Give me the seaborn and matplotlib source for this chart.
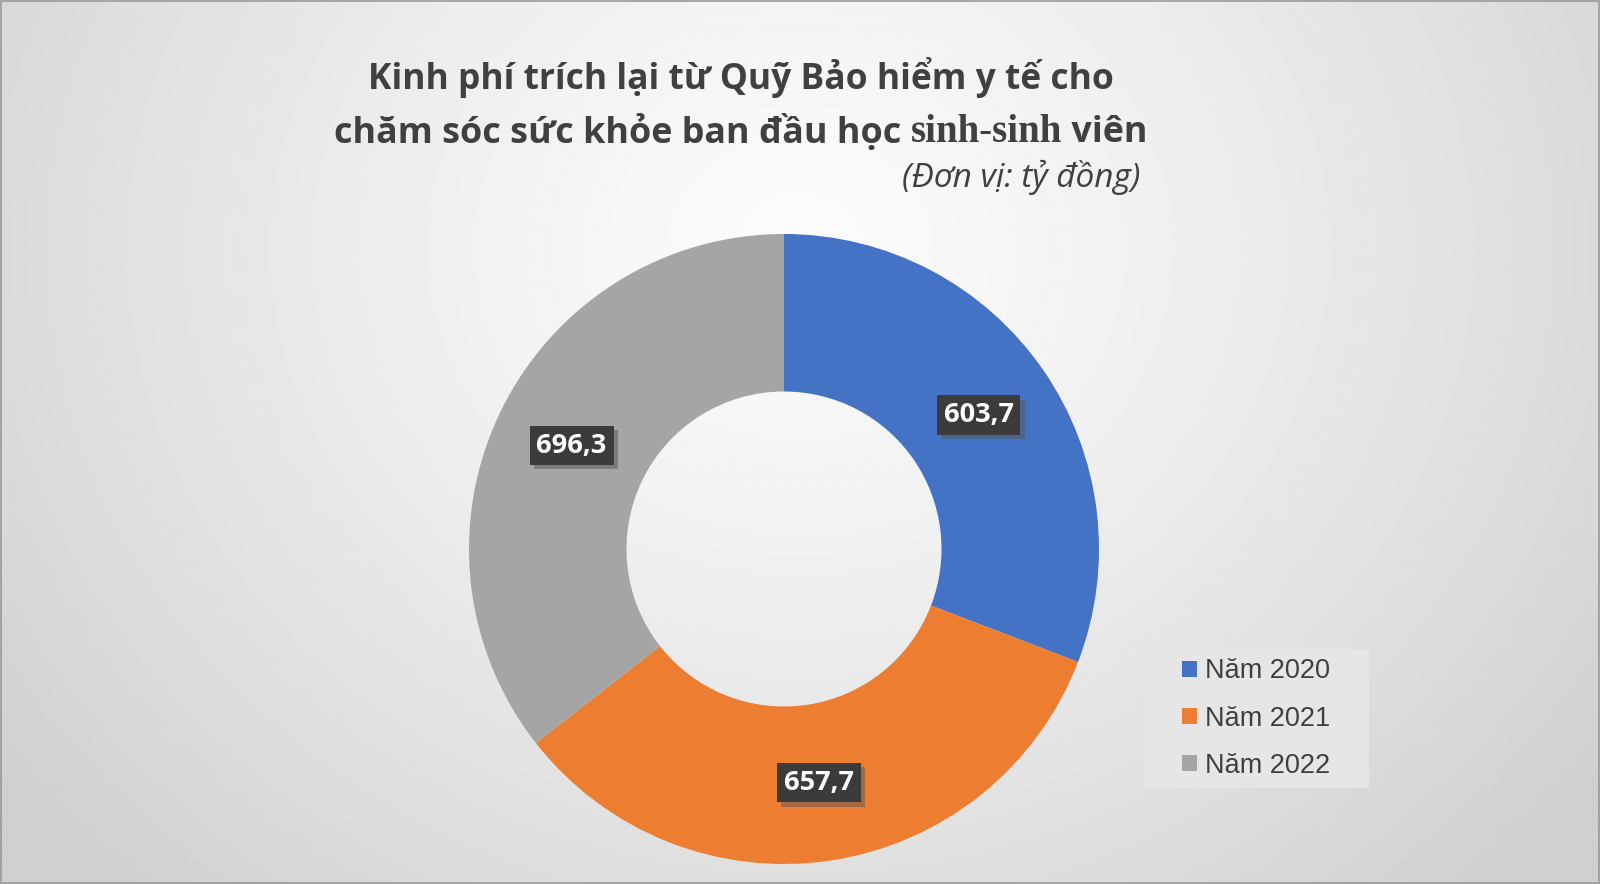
import numpy as np
import matplotlib
matplotlib.use("Agg")
import matplotlib.pyplot as plt
import matplotlib.patheffects as pe
from matplotlib.patches import Patch, Rectangle
from matplotlib.offsetbox import TextArea, HPacker, AnchoredOffsetbox
import seaborn as sns

# data
years = ["Năm 2020", "Năm 2021", "Năm 2022"]
values = [603.7, 657.7, 696.3]
value_labels = ["603,7", "657,7", "696,3"]

title_line1 = "Kinh phí trích lại từ Quỹ Bảo hiểm y tế cho"
title_line2 = ["chăm sóc sức khỏe ban đầu học ", "sinh-sinh", " viên"]
subtitle = "(Đơn vị: tỷ đồng)"

sns.set_theme(style="white")
plt.rcParams['font.family'] = ['Open Sans', 'DejaVu Sans']
colors = ["#4472C4", "#ED7D31", "#A5A5A5"]

W, H, DPI = 1600, 884, 100
fig = plt.figure(figsize=(W / DPI, H / DPI), dpi=DPI)

# background gradient
bg = fig.add_axes([0, 0, 1, 1])
bg.set_axis_off()
yy, xx = np.mgrid[0:1:300j, 0:1:500j]
d = np.sqrt(((xx - 0.5) * 1.6) ** 2 + (yy - 0.72) ** 2)
shade = 0.985 - 0.17 * np.clip(d / 1.0, 0, 1) ** 1.3
bg.imshow(shade, cmap="gray", vmin=0, vmax=1, extent=[0, 1, 0, 1],
          origin="lower", aspect="auto", interpolation="bilinear")
bg.set_xlim(0, 1)
bg.set_ylim(0, 1)
bg.add_patch(Rectangle((0.0005, 0.001), 0.999, 0.998, fill=False,
                       edgecolor="#9a9a9a", linewidth=1.2, transform=bg.transAxes))

# donut
cx, cy, r = 784, 549, 315
ax = fig.add_axes([(cx - r) / W, (H - cy - r) / H, 2 * r / W, 2 * r / H])
ax.set_axis_off()
wedges, _ = ax.pie(values, colors=colors, startangle=90, counterclock=False,
                   radius=1, wedgeprops=dict(width=0.5, edgecolor="none"))
ax.set_xlim(-1, 1)
ax.set_ylim(-1, 1)

for w, lab in zip(wedges, value_labels):
    ang = np.deg2rad((w.theta1 + w.theta2) / 2)
    t = ax.text(0.75 * np.cos(ang), 0.75 * np.sin(ang), lab, ha="center", va="center",
                color="white", fontsize=19.5, fontweight="bold",
                bbox=dict(boxstyle="square,pad=0.25", facecolor="#3b3b3b", edgecolor="none"))
    t.get_bbox_patch().set_path_effects([
        pe.SimplePatchShadow(offset=(3, -3), shadow_rgbFace="#555555", alpha=0.5),
        pe.Normal()])

# title
title_color = "#404040"
fig.text(741 / W, 1 - 78 / H, title_line1, ha="center", va="center",
         fontsize=25.5, fontweight="bold", color=title_color)
parts = [
    TextArea(title_line2[0], textprops=dict(fontsize=25.8, fontweight="bold", color=title_color,
                                            family=['Open Sans', 'DejaVu Sans'])),
    TextArea(title_line2[1], textprops=dict(fontsize=28, fontweight="bold", color=title_color,
                                            family=['Liberation Serif', 'DejaVu Serif'])),
    TextArea(title_line2[2], textprops=dict(fontsize=25.8, fontweight="bold", color=title_color,
                                            family=['Open Sans', 'DejaVu Sans'])),
]
line2 = HPacker(children=parts, align="baseline", pad=0, sep=0)
anchored = AnchoredOffsetbox(loc="center", child=line2, pad=0, borderpad=0, frameon=False,
                             bbox_to_anchor=(741 / W, 1 - 133 / H),
                             bbox_transform=fig.transFigure)
bg.add_artist(anchored)

fig.text(1140 / W, 1 - 177 / H, subtitle, ha="right", va="center",
         fontsize=24, fontstyle="italic", color=title_color)

# legend
lx0, lx1, ly0, ly1 = 1144, 1369, 649, 788
bg.add_patch(Rectangle((lx0 / W, 1 - ly1 / H), (lx1 - lx0) / W, (ly1 - ly0) / H,
                       facecolor="#e6e6e6", edgecolor="none", transform=bg.transAxes))
handles = [Patch(facecolor=c, edgecolor="none") for c in colors]
leg = fig.legend(handles, years, loc="center", bbox_to_anchor=((lx0 + lx1) / 2 / W, 1 - (ly0 + ly1) / 2 / H),
                 frameon=False, fontsize=19.5, handlelength=0.55, handleheight=0.55,
                 handletextpad=0.3, labelspacing=0.78, borderpad=0, borderaxespad=0)
for txt in leg.get_texts():
    txt.set_family(['Liberation Sans', 'DejaVu Sans'])
    txt.set_color("#404040")

fig.savefig("out.png", dpi=DPI)
